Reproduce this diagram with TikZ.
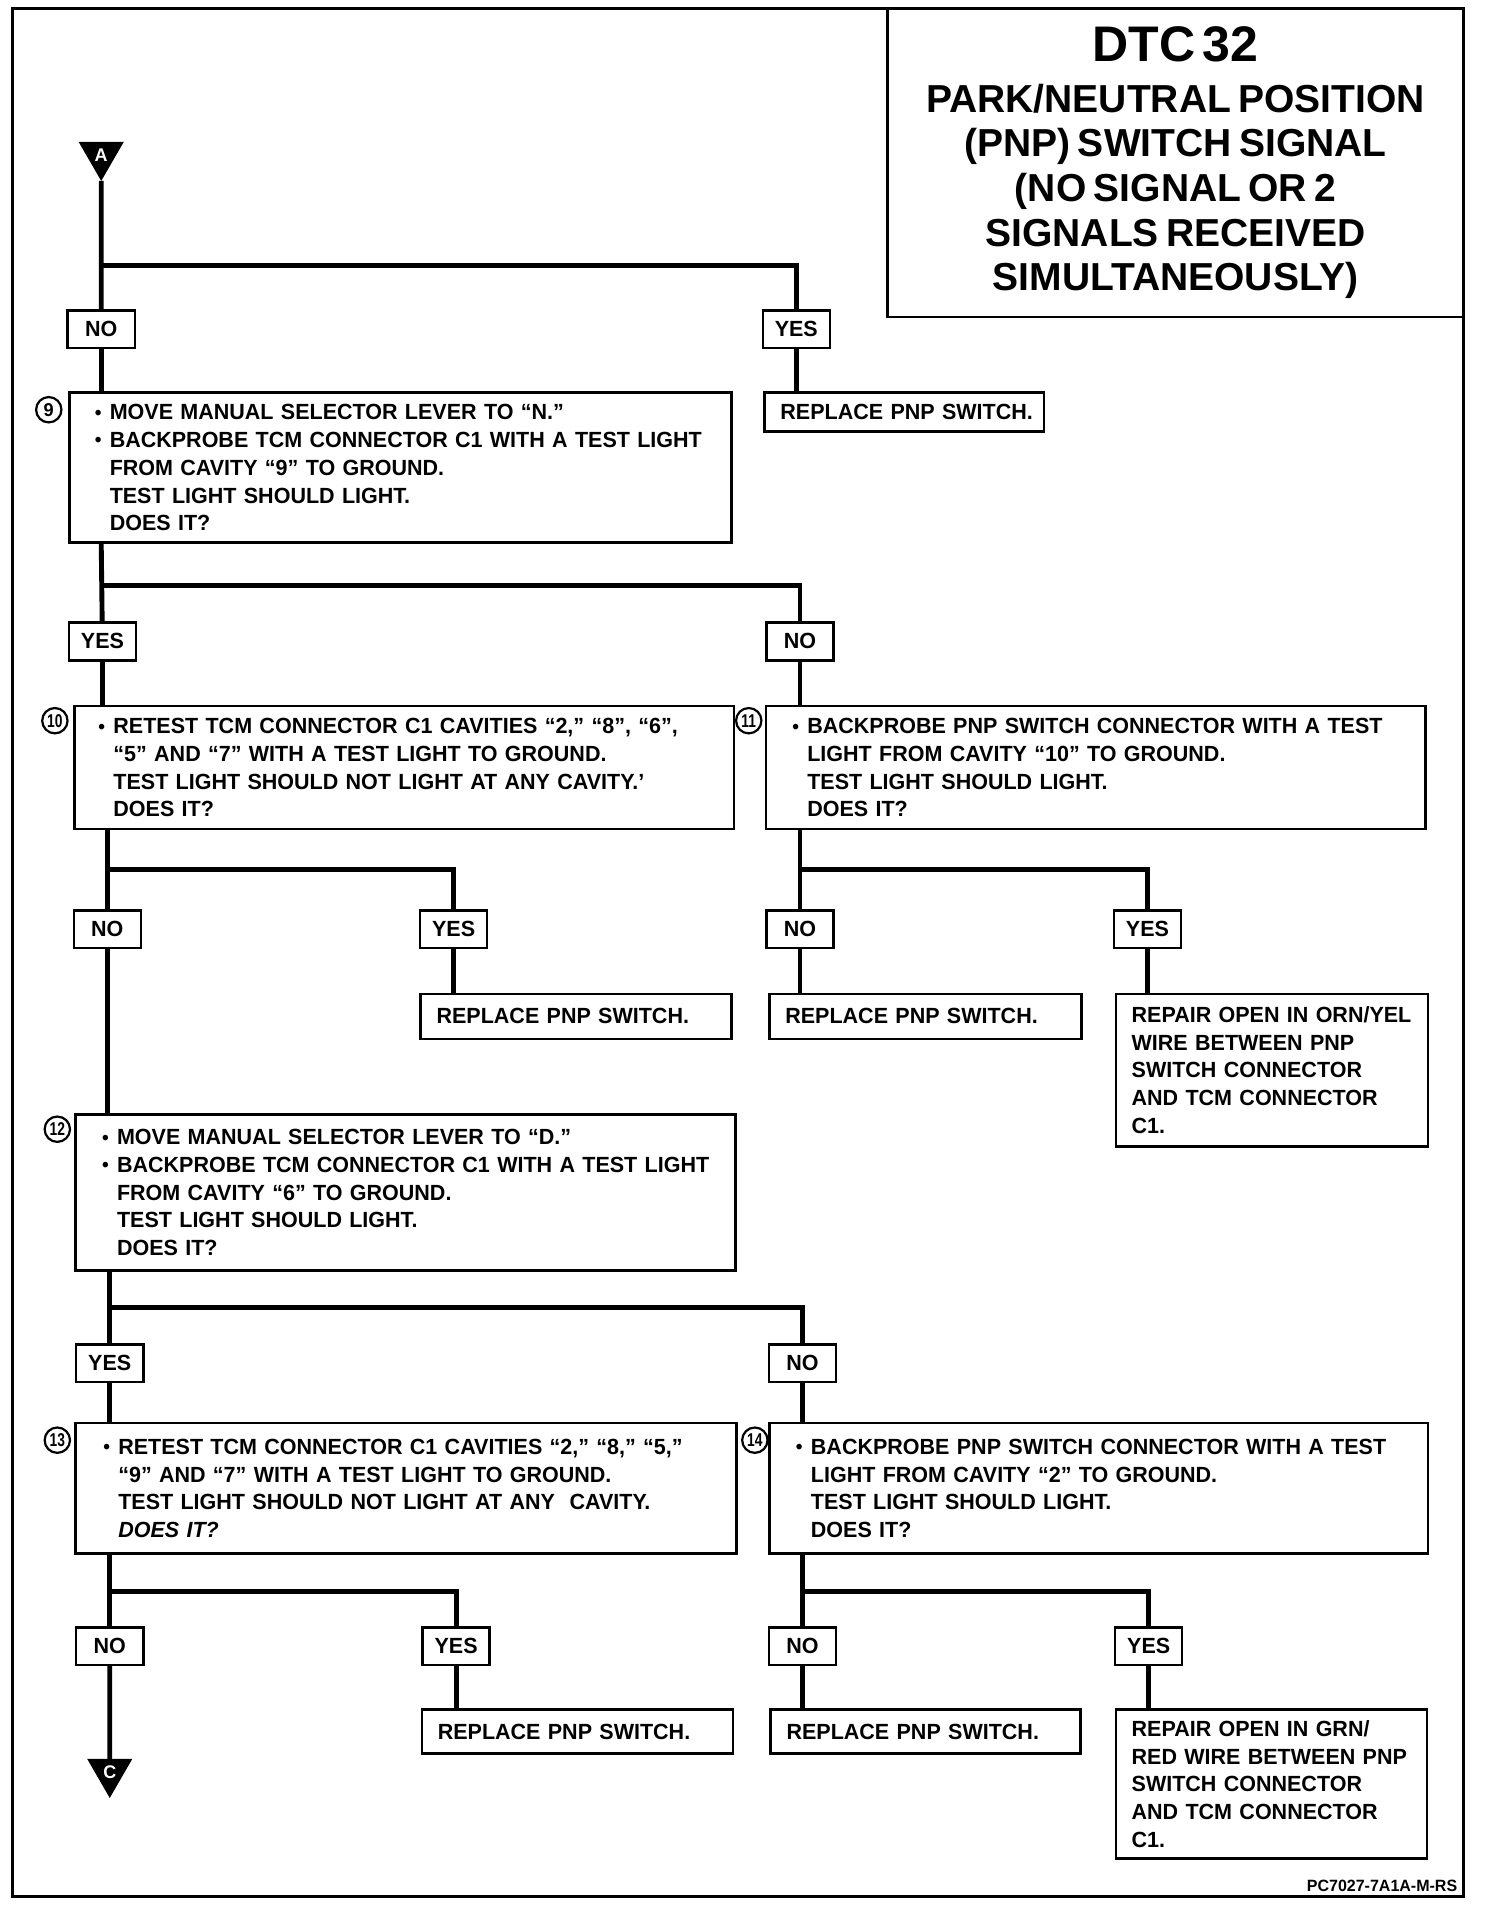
\documentclass[tikz,border=0pt]{standalone}
\usepackage{fontspec}
\usepackage{graphicx}
\setmainfont{Liberation Sans}
\newfontfamily\bodyfont{Liberation Sans}[FakeStretch=0.98]
\usetikzlibrary{shapes.geometric}
\newcommand\lp[1]{\leftskip=#1\relax}
\newcommand\mb{\leavevmode\llap{\raisebox{0.2pt}{\fontsize{8}{8}\selectfont\textbullet}\hspace{3.4pt}}}
\newcommand\nb[1]{\mbox{#1}}
\hfuzz=40pt
\hbadness=10000
\begin{document}
\begin{tikzpicture}[x=0.5pt,y=-0.5pt]
\tikzset{
 base/.style={font=\bodyfont\bfseries\fontsize{9}{11.4}\selectfont, inner sep=0pt, outer sep=0pt},
 qbox/.style={base, draw, line width=1pt, anchor=north west, align=left, inner xsep=4pt},
 abox/.style={base, draw, line width=1pt, anchor=north west, align=left, inner xsep=6.5pt},
 lbl/.style={base, draw, line width=1pt, minimum width=27.5pt, minimum height=15.5pt},
 num/.style={base, draw, circle, line width=0.9pt, minimum size=10.4pt, font=\bodyfont\bfseries\fontsize{7.6}{7.6}\selectfont},
 tri/.style={base, regular polygon, regular polygon sides=3, shape border rotate=180, fill=black, text=white, minimum size=21.4pt, font=\bodyfont\bfseries\fontsize{7.5}{7.5}\selectfont},
 conn/.style={line width=2pt},
}
\useasboundingbox (0,0) rectangle (1220,1563);
\draw[line width=1.1pt] (10,7) rectangle (1200,1555);

% title
\node[base, font=\rmfamily\bfseries\fontsize{9}{11.4}\selectfont, draw, line width=1.1pt, anchor=north west, minimum width=236pt, minimum height=126.5pt, text width=236pt, align=center] (title) at (728,7)
 {{\fontsize{20.5}{24}\selectfont DTC 32\par}\vspace{2.5pt}%
  \fontsize{16}{18.25}\selectfont PARK/NEUTRAL POSITION\\(PNP) SWITCH SIGNAL\\(NO SIGNAL OR 2\\SIGNALS RECEIVED\\SIMULTANEOUSLY)\par};

% start
\node[tri] (A) at (83,127) {A};
\node[lbl] (no0) at (83,270) {NO};
\node[lbl] (yes0) at (653,270) {YES};
\coordinate (j0) at (83,218);

\node[qbox, minimum height=61.5pt, text width=263.5pt] (b9) at (57,322)
 {\lp{12.5pt}\nb{\mb MOVE MANUAL SELECTOR LEVER TO “N.”}\\\nb{\mb BACKPROBE TCM CONNECTOR C1 WITH A TEST LIGHT}\\\nb{FROM CAVITY “9” TO GROUND.}\\\nb{TEST LIGHT SHOULD LIGHT.}\\\nb{DOES IT?}\par};
\node[num] (n9) at (40,336) {9};
\node[abox, minimum height=16pt, text width=101.5pt] (r1) at (627,322) {\nb{REPLACE PNP SWITCH.}\par};

\draw[conn] (A) -- (no0);
\draw[conn] (j0) -| (yes0);
\draw[conn] (no0) -- (b9.north -| no0);
\draw[conn] (yes0) -- (r1.north -| yes0);

% second level
\node[lbl] (yes1) at (84,526) {YES};
\node[lbl] (no1) at (656,526) {NO};
\coordinate (j1) at (83,480);
\node[qbox, minimum height=50.5pt, text width=262.5pt] (b10) at (61,579)
 {\lp{12pt}\nb{\mb RETEST TCM CONNECTOR C1 CAVITIES “2,” “8”, “6”,}\\\nb{“5” AND “7” WITH A TEST LIGHT TO GROUND.}\\\nb{TEST LIGHT SHOULD NOT LIGHT AT ANY CAVITY.’}\\\nb{DOES IT?}\par};
\node[num] (n10) at (45,591) {\scalebox{0.76}[1]{10}};
\node[qbox, minimum height=50.5pt, text width=262.5pt] (b11) at (628,579)
 {\lp{13pt}\nb{\mb BACKPROBE PNP SWITCH CONNECTOR WITH A TEST}\\\nb{LIGHT FROM CAVITY “10” TO GROUND.}\\\nb{TEST LIGHT SHOULD LIGHT.}\\\nb{DOES IT?}\par};
\node[num] (n11) at (614,591) {\scalebox{0.76}[1]{11}};

\draw[conn] (b9.south -| j1) -- (yes1);
\draw[conn] (j1) -| (no1);
\draw[conn] (yes1) -- (b10.north -| yes1);
\draw[conn] (no1) -- (b11.north -| no1);

% third level, left
\coordinate (j2) at (88,713);
\node[lbl] (no2) at (88,762) {NO};
\node[lbl] (yes2) at (372,762) {YES};
\node[abox, minimum height=18.5pt, text width=114.5pt] (r2) at (345,815) {\nb{REPLACE PNP SWITCH.}\par};
\draw[conn] (b10.south -| j2) -- (no2);
\draw[conn] (j2) -| (yes2);
\draw[conn] (yes2) -- (r2.north -| yes2);

% third level, right
\coordinate (j3) at (656,713);
\node[lbl] (no3) at (656,762) {NO};
\node[lbl] (yes3) at (941,762) {YES};
\node[abox, minimum height=18.5pt, text width=115pt] (r3) at (631,815) {\nb{REPLACE PNP SWITCH.}\par};
\node[abox, minimum height=62.5pt, text width=115pt] (rep1) at (915,815)
 {\nb{REPAIR OPEN IN ORN/YEL}\\\nb{WIRE BETWEEN PNP}\\\nb{SWITCH CONNECTOR}\\\nb{AND TCM CONNECTOR}\\\nb{C1.}\par};
\draw[conn] (b11.south -| j3) -- (no3);
\draw[conn] (j3) -| (yes3);
\draw[conn] (no3) -- (r3.north -| no3);
\draw[conn] (yes3) -- (rep1.north -| yes3);

% box 12
\node[qbox, minimum height=64pt, text width=262.5pt] (b12) at (62,914)
 {\lp{13pt}\nb{\mb MOVE MANUAL SELECTOR LEVER TO “D.”}\\\nb{\mb BACKPROBE TCM CONNECTOR C1 WITH A TEST LIGHT}\\\nb{FROM CAVITY “6” TO GROUND.}\\\nb{TEST LIGHT SHOULD LIGHT.}\\\nb{DOES IT?}\par};
\node[num] (n12) at (47,926) {\scalebox{0.76}[1]{12}};
\draw[conn] (no2) -- (b12.north -| no2);

\coordinate (j4) at (90,1072);
\node[lbl] (yes4) at (90,1118) {YES};
\node[lbl] (no4) at (658,1118) {NO};
\node[qbox, minimum height=53.5pt, text width=263pt] (b13) at (62,1167)
 {\lp{13.5pt}\nb{\mb RETEST TCM CONNECTOR C1 CAVITIES “2,” “8,” “5,”}\\\nb{“9” AND “7” WITH A TEST LIGHT TO GROUND.}\\\nb{TEST LIGHT SHOULD NOT LIGHT AT ANY\ \ CAVITY.}\\\nb{\textit{DOES IT?}}\par};
\node[num] (n13) at (47,1181) {\scalebox{0.76}[1]{13}};
\node[qbox, minimum height=53.5pt, text width=262pt] (b14) at (631,1167)
 {\lp{13pt}\nb{\mb BACKPROBE PNP SWITCH CONNECTOR WITH A TEST}\\\nb{LIGHT FROM CAVITY “2” TO GROUND.}\\\nb{TEST LIGHT SHOULD LIGHT.}\\\nb{DOES IT?}\par};
\node[num] (n14) at (619,1181) {\scalebox{0.76}[1]{14}};
\draw[conn] (b12.south -| j4) -- (yes4);
\draw[conn] (j4) -| (no4);
\draw[conn] (yes4) -- (b13.north -| yes4);
\draw[conn] (no4) -- (b14.north -| no4);

% bottom left
\coordinate (j5) at (90,1305);
\node[lbl] (no5) at (90,1350) {NO};
\node[lbl] (yes5) at (374,1350) {YES};
\node[abox, minimum height=18pt, text width=114.5pt] (r4) at (346,1402) {\nb{REPLACE PNP SWITCH.}\par};
\node[tri] (C) at (90,1453) {C};
\draw[conn] (b13.south -| j5) -- (no5);
\draw[conn] (j5) -| (yes5);
\draw[conn] (no5) -- (C);
\draw[conn] (yes5) -- (r4.north -| yes5);

% bottom right
\coordinate (j6) at (658,1305);
\node[lbl] (no6) at (658,1350) {NO};
\node[lbl] (yes6) at (942,1350) {YES};
\node[abox, minimum height=18pt, text width=114pt] (r5) at (632,1402) {\nb{REPLACE PNP SWITCH.}\par};
\node[abox, minimum height=61pt, text width=114.5pt] (rep2) at (915,1402)
 {\nb{REPAIR OPEN IN GRN/}\\\nb{RED WIRE BETWEEN PNP}\\\nb{SWITCH CONNECTOR}\\\nb{AND TCM CONNECTOR}\\\nb{C1.}\par};
\draw[conn] (b14.south -| j6) -- (no6);
\draw[conn] (j6) -| (yes6);
\draw[conn] (no6) -- (r5.north -| no6);
\draw[conn] (yes6) -- (rep2.north -| yes6);

\node[base, anchor=south east, font=\bodyfont\bfseries\fontsize{6.7}{7}\selectfont] (ref) at (1195,1551) {PC7027-7A1A-M-RS};
\end{tikzpicture}
\end{document}
